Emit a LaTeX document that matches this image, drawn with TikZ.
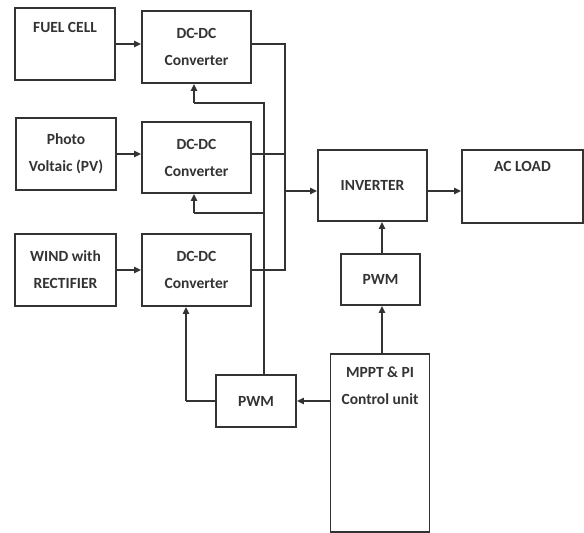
\documentclass[tikz,border=0pt]{standalone}
\usepackage{fontspec}
\setmainfont{Carlito}
\usetikzlibrary{arrows.meta}
\definecolor{ink}{HTML}{333333}
\tikzset{
  blk/.style={draw=ink, line width=1.6pt, fill=white, inner sep=0pt,
    align=center, text=ink,
    font=\bfseries\fontsize{15.5}{27}\selectfont},
  toplabel/.style={anchor=north, inner sep=0pt, align=center, text=ink,
    font=\bfseries\fontsize{15.5}{27}\selectfont},
  wire/.style={draw=ink, line width=1.7pt},
  arr/.style={wire, -{Triangle[length=7pt,width=6pt]}},
}
\begin{document}
\begin{tikzpicture}[x=1pt,y=-1pt]
  \useasboundingbox (0,0) rectangle (584,533);

  % sources
  \node[blk, minimum width=100pt, minimum height=72pt,
        label={[toplabel, yshift=-15pt]north:FUEL CELL}] (fuel) at (65,44) {};
  \node[blk, minimum width=100pt, minimum height=72pt] (pv) at (66,154) {Photo\\Voltaic (PV)};
  \node[blk, minimum width=101pt, minimum height=72pt] (wind) at (65.5,270) {WIND with\\RECTIFIER};

  % converters
  \node[blk, minimum width=109pt, minimum height=72pt] (dc1) at (196.5,47) {DC-DC\\Converter};
  \node[blk, minimum width=109pt, minimum height=71pt] (dc2) at (196.5,157.5) {DC-DC\\Converter};
  \node[blk, minimum width=109pt, minimum height=72pt] (dc3) at (196.5,270) {DC-DC\\Converter};

  % inverter and load
  \node[blk, minimum width=109pt, minimum height=71pt] (inv) at (372.5,185.5) {INVERTER};
  \node[blk, minimum width=121pt, minimum height=73pt,
        label={[toplabel, yshift=-12pt]north:AC LOAD}] (load) at (522.5,186.5) {};

  % control
  \node[blk, minimum width=79pt, minimum height=51pt] (pwmb) at (380.5,279.5) {PWM};
  \node[blk, minimum width=80pt, minimum height=52pt] (pwma) at (256,401) {PWM};
  \node[blk, minimum width=99pt, minimum height=178pt,
        label={[toplabel, yshift=-13pt]north:{MPPT \& PI\\Control unit}}] (ctl) at (380,443) {};

  % source to converter
  \draw[arr] (fuel.east) -- (fuel.east -| dc1.west);
  \draw[arr] (pv.east) -- (pv.east -| dc2.west);
  \draw[arr] (wind.east) -- (wind.east -| dc3.west);

  % DC bus collecting the converter outputs
  \coordinate (bus1) at (285,44);
  \coordinate (bus3) at (285,270);
  \coordinate (tap) at (285,191);
  \draw[wire] (dc1.east |- bus1) -- (bus1) -- (bus3) -- (dc3.east);
  \draw[wire] (dc2.east |- pv.east) -- (pv.east -| bus1);
  \draw[arr] (tap) -- (tap -| inv.west);
  \draw[arr] (inv.east |- tap) -- (tap -| load.west);

  % converter gate signals
  \coordinate (fb1) at (264,103);
  \coordinate (fb2) at (264,213);
  \coordinate (g1) at (194,103);
  \coordinate (g2) at (194,213);
  \draw[wire] (pwma.north -| fb1) -- (fb1) -- (g1);
  \draw[arr] (g1) -- (g1 |- dc1.south);
  \draw[wire] (fb2) -- (g2);
  \draw[arr] (g2) -- (g2 |- dc2.south);
  \coordinate (g3) at (186,401);
  \draw[wire] (pwma.west) -- (g3);
  \draw[arr] (g3) -- (g3 |- dc3.south);

  % controller outputs
  \draw[arr] (ctl.west |- pwma.east) -- (pwma.east);
  \draw[arr] (pwmb.north -| 382,0) -- (inv.south -| 382,0);
  \draw[arr] (ctl.north -| 382,0) -- (pwmb.south -| 382,0);
\end{tikzpicture}
\end{document}
